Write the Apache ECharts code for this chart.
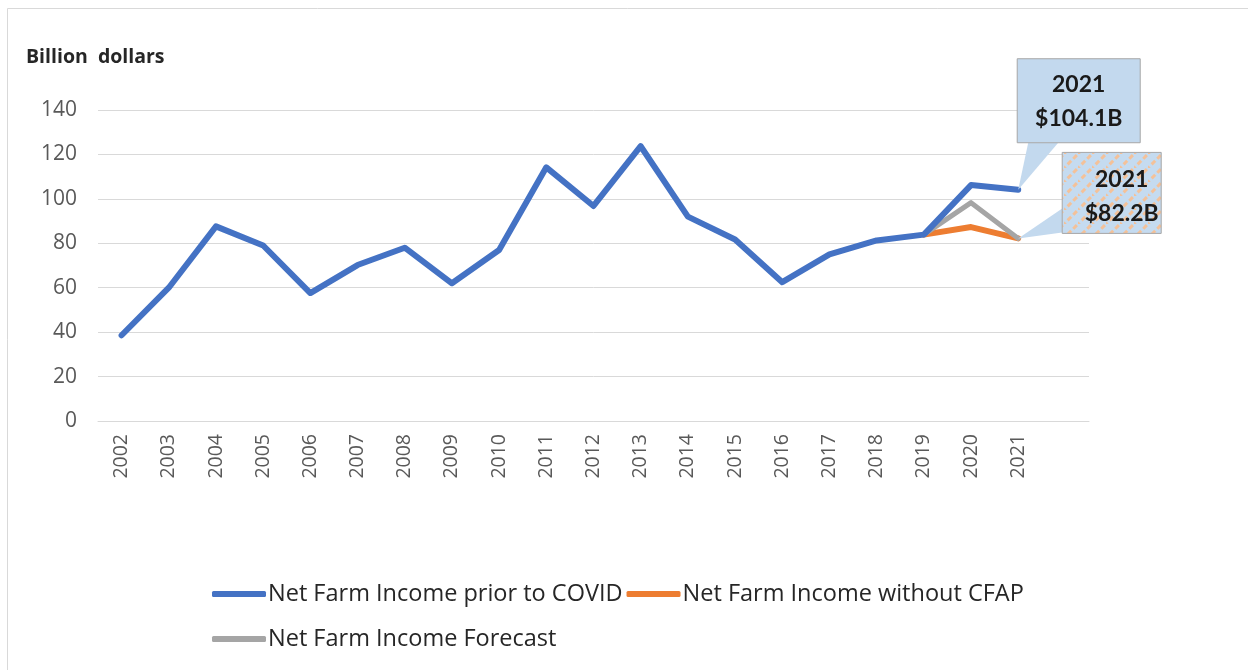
<!DOCTYPE html>
<html>
<head>
<meta charset="utf-8">
<script src="https://cdn.jsdelivr.net/npm/echarts@6/dist/echarts.min.js"></script>
<style>
html,body{margin:0;padding:0;background:#fff;}
#chart{width:1248px;height:670px;}
</style>
</head>
<body>
<div id="chart"></div>
<script>
const years = ['2002','2003','2004','2005','2006','2007','2008','2009','2010','2011','2012','2013','2014','2015','2016','2017','2018','2019','2020','2021',''];
const priorToCovid = [38.6,60,87.6,79,57.6,70.2,78,62,77,114.2,96.8,123.7,92,81.7,62.5,75,81.3,83.9,106.2,104.1,null];
const withoutCFAP = [null,null,null,null,null,null,null,null,null,null,null,null,null,null,null,null,null,83.9,87.3,82.2,null];
const forecast = [null,null,null,null,null,null,null,null,null,null,null,null,null,null,null,null,null,83.9,98.3,82.2,null];
const seriesNames = ['Net Farm Income prior to COVID','Net Farm Income without CFAP','Net Farm Income Forecast'];
const yTicks = {min:0, max:140, interval:20};
const callouts = [
  {series:0, index:19, lines:['2021','$104.1B']},
  {series:2, index:19, lines:['2021','$82.2B']}
];

const chart = echarts.init(document.getElementById('chart'), null, {renderer:'canvas'});
const lineBase = {type:'line', symbol:'none', connectNulls:false, smooth:false};
const legendText = {fontFamily:'Open Sans', fontSize:23.5, color:'#262626', padding:[0,0,0,-3]};
const option = {
  animation:false,
  backgroundColor:'#fff',
  title:{text:'Billion  dollars', left:21, top:42, textStyle:{fontFamily:'Open Sans', fontWeight:'bold', fontSize:19.5, color:'#262626'}},
  grid:{left:98, right:159, top:110, bottom:249, containLabel:false},
  xAxis:{type:'category', data:years, boundaryGap:true,
    axisLine:{lineStyle:{color:'#d9d9d9', width:1}}, axisTick:{show:false},
    axisLabel:{rotate:90, margin:13, fontFamily:'Open Sans', fontSize:19.5, color:'#595959', interval:0}},
  yAxis:{type:'value', min:yTicks.min, max:yTicks.max, interval:yTicks.interval,
    axisLine:{show:false}, axisTick:{show:false},
    axisLabel:{margin:21, fontFamily:'Open Sans', fontSize:21, color:'#595959'},
    splitLine:{lineStyle:{color:'#d9d9d9', width:1}}},
  legend:[
    {data:[seriesNames[0], seriesNames[1]], left:212, top:582, padding:0, itemWidth:54, itemHeight:6, itemGap:4, icon:'roundRect', textStyle:legendText},
    {data:[seriesNames[2]], left:212, top:627, padding:0, itemWidth:54, itemHeight:6, itemGap:4, icon:'roundRect', textStyle:legendText}
  ],
  series:[
    Object.assign({}, lineBase, {name:seriesNames[0], data:priorToCovid, z:4, color:'#4472c4', lineStyle:{width:6, color:'#4472c4', cap:'round', join:'round'}}),
    Object.assign({}, lineBase, {name:seriesNames[1], data:withoutCFAP, z:2, color:'#ed7d31', lineStyle:{width:6, color:'#ed7d31', cap:'round', join:'round'}}),
    Object.assign({}, lineBase, {name:seriesNames[2], data:forecast, z:3, color:'#a5a5a5', lineStyle:{width:5, color:'#a5a5a5', cap:'round', join:'round'}})
  ]
};
chart.setOption(option);

function hatchPattern(){
  const n = 14;
  const c = document.createElement('canvas');
  c.width = n; c.height = n;
  const g = c.getContext('2d');
  g.fillStyle = '#c5dbf0'; g.fillRect(0,0,n,n);
  g.strokeStyle = 'rgba(247,192,148,0.95)'; g.lineWidth = 3;
  g.setLineDash([5,3]);
  g.beginPath();
  g.moveTo(-2,n+2); g.lineTo(n+2,-2);
  g.moveTo(-n-2,n+2); g.lineTo(2,-2);
  g.moveTo(n-2,2*n+2); g.lineTo(2*n+2,n-2);
  g.stroke();
  return c;
}

const dataArrays = [priorToCovid, withoutCFAP, forecast];
const boxSpecs = [
  {dx:-1, dy:-131, w:123, h:84, wedge:[[10,-47],[40,-47]], fill:'#c3d9ee', tx:0, ty:1},
  {dx:44, dy:-86, w:99, h:81, wedge:[[44,-30],[44,-6]], fill:{image:hatchPattern(), repeat:'repeat'}, tx:10, ty:4}
];
const graphics = [];
callouts.forEach((c, i) => {
  const p = chart.convertToPixel({seriesIndex:c.series}, [c.index, dataArrays[c.series][c.index]]);
  const s = boxSpecs[i];
  graphics.push({type:'polygon', z:10, shape:{points:[[p[0],p[1]],[p[0]+s.wedge[0][0],p[1]+s.wedge[0][1]],[p[0]+s.wedge[1][0],p[1]+s.wedge[1][1]]]},
    style:{fill:'#c3d9ee', stroke:null}});
  graphics.push({type:'rect', z:11, shape:{x:p[0]+s.dx, y:p[1]+s.dy, width:s.w, height:s.h},
    style:{fill:s.fill, stroke:'#a6a6a6', lineWidth:1}});
  graphics.push({type:'text', z:12, x:p[0]+s.dx+s.w/2+s.tx, y:p[1]+s.dy+s.h/2+s.ty,
    style:{text:c.lines.join('\n'), fill:'#1a1a1a', font:'bold 23px Lato', align:'center', verticalAlign:'middle', lineHeight:34}});
});
graphics.push({type:'polyline', z:1, shape:{points:[[7.5,670],[7.5,8.5],[1248,8.5]]}, style:{stroke:'#d9d9d9', lineWidth:1, fill:null}});
chart.setOption({graphic:graphics});
</script>
</body>
</html>
